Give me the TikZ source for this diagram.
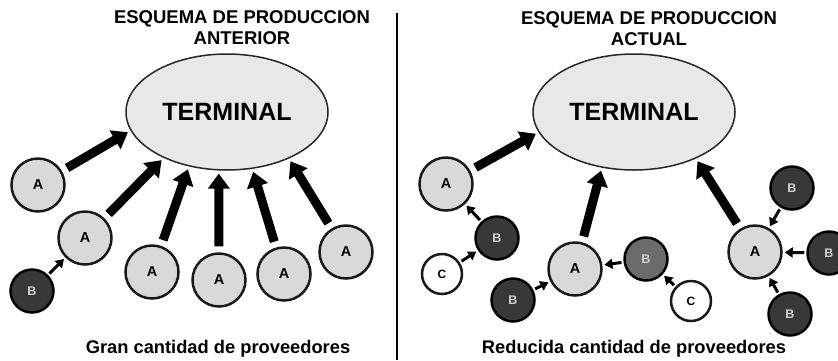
\documentclass[tikz,border=0pt]{standalone}
\usepackage{fontspec}
\setmainfont{Liberation Sans}
\usepackage{tikz}
\usetikzlibrary{shapes.geometric, arrows.meta, positioning}

\begin{document}
\begin{tikzpicture}[
    x=1pt, y=-1pt,
    terminal/.style={ellipse, draw=black!85, fill=gray!18, line width=1.5pt, minimum width=202pt, minimum height=116pt, font=\fontsize{25}{28}\selectfont\bfseries},
    supA/.style={circle, draw=black!90, fill=gray!30, line width=2.5pt, minimum size=53pt, inner sep=0pt, font=\fontsize{14.5}{16}\selectfont\bfseries},
    supB/.style={circle, draw=black, fill=black!78, line width=2.5pt, minimum size=43pt, inner sep=0pt, text=gray!35, font=\fontsize{12.5}{14}\selectfont\bfseries},
    supBmid/.style={supB, fill=black!58},
    supC/.style={circle, draw=black!90, fill=white, line width=2.5pt, minimum size=40pt, inner sep=0pt, font=\fontsize{12}{14}\selectfont\bfseries},
    title/.style={align=center, font=\fontsize{18.5}{21}\selectfont\bfseries},
    caption/.style={font=\fontsize{18.3}{21}\selectfont\bfseries},
    bigarrow/.style={-{Triangle[length=15pt,width=21pt]}, line width=9pt, shorten <=6pt, shorten >=3pt},
    smallarrow/.style={-{Triangle[length=8pt,width=10pt]}, line width=3pt, shorten <=2pt, shorten >=2pt}
]
\useasboundingbox (0,0) rectangle (838,360);

\node[title] (titleL) at (242,28) {ESQUEMA DE PRODUCCION\\ANTERIOR};
\node[title] (titleR) at (649,29) {ESQUEMA DE PRODUCCION\\ACTUAL};

\node[terminal] (termL) at (227,112) {TERMINAL};
\node[terminal] (termR) at (634,112) {TERMINAL};

\coordinate (divtop) at (397,13);
\coordinate (divbot) at (397,360);
\draw[line width=2pt] (divtop) -- (divbot);

\node[supA] (a1) at (38,185) {A};
\node[supA] (a2) at (85,238) {A};
\node[supA] (a3) at (152,272) {A};
\node[supA] (a4) at (219,280) {A};
\node[supA] (a5) at (284,274) {A};
\node[supA] (a6) at (346,252) {A};
\node[supB] (b1) at (32,291) {B};

\node[supA] (ra1) at (446,184) {A};
\node[supB] (rb1) at (497,238) {B};
\node[supC] (rc1) at (442,274) {C};
\node[supA] (ra2) at (575,269) {A};
\node[supBmid] (rb2) at (646,259) {B};
\node[supC] (rc2) at (691,301) {C};
\node[supB] (rb3) at (513,300) {B};
\node[supA] (ra3) at (755,252) {A};
\node[supB] (rb4) at (792,188) {B};
\node[supB] (rb5) at (829,253) {B};
\node[supB] (rb6) at (790,314) {B};

\node[caption] (capL) at (218,349) {Gran cantidad de proveedores};
\node[caption] (capR) at (634,349) {Reducida cantidad de proveedores};

\draw[bigarrow] (a1) -- (termL.191);
\draw[bigarrow] (a2) -- (termL.216);
\draw[bigarrow] (a3) -- (termL.235);
\draw[bigarrow] (a4) -- (termL.262);
\draw[bigarrow] (a5) -- (termL.294);
\draw[bigarrow] (a6) -- (termL.323);
\draw[smallarrow] (b1) -- (a2);

\draw[bigarrow] (ra1) -- (termR.192);
\draw[bigarrow] (ra2) -- (termR.240);
\draw[bigarrow] (ra3) -- (termR.323);
\draw[smallarrow] (rb1) -- (ra1);
\draw[smallarrow] (rc1) -- (rb1);
\draw[smallarrow] (rb2) -- (ra2);
\draw[smallarrow] (rc2) -- (rb2);
\draw[smallarrow] (rb3) -- (ra2);
\draw[smallarrow] (rb4) -- (ra3);
\draw[smallarrow] (rb5) -- (ra3);
\draw[smallarrow] (rb6) -- (ra3);

\end{tikzpicture}
\end{document}
